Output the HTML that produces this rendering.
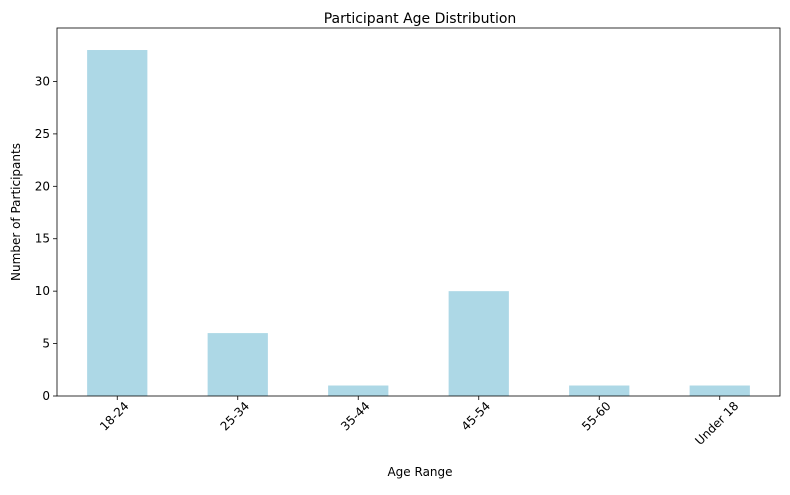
<!DOCTYPE html>
<html><head><meta charset="utf-8"><style>
body{margin:0;background:#fff;}
svg text{font-family:"DejaVu Sans","Liberation Sans",sans-serif;fill:#000;}
</style></head><body>
<svg id="chart" width="790" height="490">
<text x="420" y="23" font-size="14" text-anchor="middle">Participant Age Distribution</text>
<text x="420" y="476" font-size="12" text-anchor="middle">Age Range</text>
<text transform="translate(20,212) rotate(-90)" font-size="12" text-anchor="middle">Number of Participants</text>
<g id="plot"></g>
</svg>
<script>
const categories=["18-24","25-34","35-44","45-54","55-60","Under 18"];
const counts=[33,6,1,10,1,1];
const yTicks=[0,5,10,15,20,25,30];
const L=57,R=780,T=28,B=396,yMax=35.1;
const ns="http://www.w3.org/2000/svg";
const g=document.getElementById('plot');
const step=(R-L)/categories.length;
const xC=i=>L+step*(i+0.5);
const y=v=>B-(B-T)*v/yMax;
function mk(t,a){const e=document.createElementNS(ns,t);for(const k in a)e.setAttribute(k,a[k]);g.appendChild(e);return e;}
categories.forEach((c,i)=>{
 const b=mk('rect',{x:xC(i)-step/4,y:y(counts[i]),width:step/2,height:B-y(counts[i]),fill:'#add8e6'});
 
 
 mk('line',{x1:xC(i),x2:xC(i),y1:B,y2:B+4,stroke:'#000','stroke-width':0.8});
 const half=c.length*3.4;
 const t=mk('text',{transform:`translate(${xC(i)-3},${B+8+half*0.707}) rotate(-45)`,'font-size':12,'text-anchor':'middle',dy:'0.35em'});
 t.textContent=c;
 
 
});
yTicks.forEach(v=>{
 mk('line',{x1:L-4,x2:L,y1:y(v),y2:y(v),stroke:'#000','stroke-width':0.8});
 const t=mk('text',{x:L-7,y:y(v)+4,'font-size':12,'text-anchor':'end'});
 t.textContent=v;
 
 
});
const f=mk('rect',{x:L,y:T,width:R-L,height:B-T,fill:'none',stroke:'#000','stroke-width':0.8});


</script>
</body></html>
